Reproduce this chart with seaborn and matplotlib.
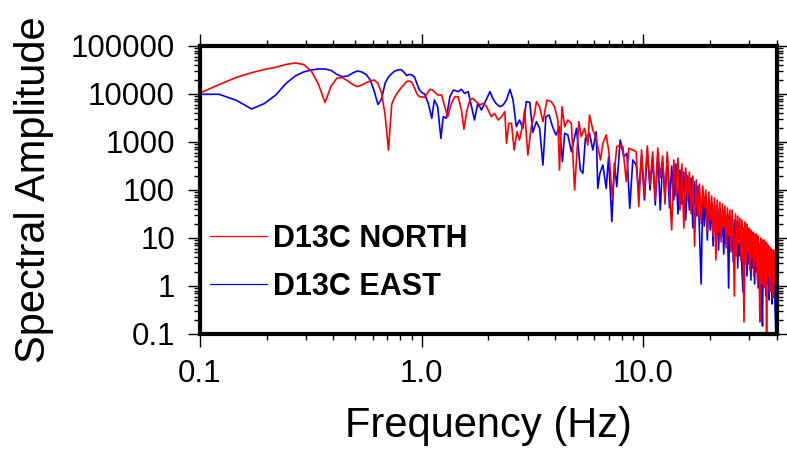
import matplotlib
matplotlib.use("Agg")
import pandas as pd
import matplotlib.pyplot as plt
import seaborn as sns
from matplotlib.lines import Line2D
from matplotlib.ticker import (
    FixedLocator,
    FixedFormatter,
    LogLocator,
    NullFormatter
)

# --------------------------------------------------
# Data
# --------------------------------------------------

# low frequencies, FFT grid shared by both components
freq_low = [
    0.0977, 0.122, 0.1465, 0.1709, 0.1953, 0.2197, 0.2441, 0.2686, 0.293, 0.3174,
    0.3418, 0.3662, 0.3906, 0.415, 0.4395, 0.4639, 0.4883, 0.5127, 0.5371, 0.5615,
    0.5859, 0.6104, 0.6348, 0.6592, 0.6836, 0.708, 0.7324, 0.7568, 0.7813, 0.8057,
    0.8301, 0.8545, 0.8789, 0.9033, 0.9277, 0.9521, 0.9766, 1.001
]

north_low = [
    10000, 15700, 22300, 27800, 32400, 36000, 41200, 44300, 41200, 30200,
    16200, 6650, 14700, 21500, 21900, 18700, 15800, 14200, 15400, 17200,
    18700, 19600, 16700, 10500, 3650, 681, 6190, 8660, 11000, 13300,
    15400, 18200, 18700, 17400, 13300, 10000, 8790, 8660
]

east_low = [
    9860, 9860, 7320, 4870, 6340, 9530, 16500, 23700, 28700, 31600,
    33200, 33200, 30900, 25500, 22900, 23700, 27400, 30200, 28700, 25500,
    19600, 11500, 6040, 7870, 16900, 22600, 26700, 30200, 31600, 32400,
    28700, 24300, 25500, 24900, 22600, 16200, 12100, 10700
]

# 1 - 10 Hz
freq_mid_north = [
    1.03, 1.09, 1.12, 1.18, 1.23, 1.27, 1.31, 1.36, 1.41, 1.46,
    1.51, 1.55, 1.60, 1.65, 1.70, 1.76, 1.83, 1.89, 1.96, 2.06,
    2.13, 2.21, 2.29, 2.37, 2.41, 2.47, 2.54, 2.61, 2.69, 2.76,
    2.86, 2.91, 3.01, 3.12, 3.23, 3.29, 3.40, 3.52, 3.67, 3.84,
    3.97, 4.11, 4.18, 4.29, 4.41, 4.56, 4.73, 4.89, 5.11, 5.24,
    5.42, 5.61, 5.71, 5.91, 6.12, 6.22, 6.40, 6.56, 6.79, 6.98,
    7.23, 7.40, 7.58, 7.80, 8.07, 8.36, 8.59, 8.95, 9.27, 9.52
]

amp_mid_north = [
    8540, 12500, 12100, 9530, 9530, 5440, 3370, 6400, 8790, 8790,
    4640, 1840, 4640, 7500, 8130, 6920, 5900, 6400, 5440, 3370,
    3960, 2870, 3370, 4280, 940, 2450, 2450, 681, 1640, 1100,
    2450, 4640, 536, 2080, 3960, 6920, 5440, 2650, 7500, 6920,
    5440, 2870, 261, 5440, 2080, 2870, 2450, 100, 2650, 1290,
    1930, 866, 3650, 1780, 1190, 798, 422, 940, 1400, 628,
    67, 261, 798, 866, 798, 149, 740, 681, 628, 45
]

freq_mid_east = [
    1.03, 1.07, 1.11, 1.14, 1.18, 1.22, 1.25, 1.29, 1.34, 1.39,
    1.46, 1.51, 1.56, 1.62, 1.67, 1.73, 1.79, 1.86, 1.92, 2.03,
    2.09, 2.16, 2.25, 2.33, 2.41, 2.50, 2.58, 2.67, 2.76, 2.86,
    2.96, 3.07, 3.17, 3.29, 3.40, 3.52, 3.63, 3.75, 3.89, 4.03,
    4.18, 4.31, 4.41, 4.56, 4.73, 4.99, 5.19, 5.33, 5.47, 5.71,
    5.91, 6.12, 6.22, 6.36, 6.56, 6.79, 6.96, 7.20, 7.40, 7.58,
    7.85, 8.15, 8.42, 8.67, 8.95, 9.27, 9.52
]

amp_mid_east = [
    10000, 6400, 3120, 7500, 5440, 1190, 3370, 3120, 8790, 12100,
    11200, 12500, 10300, 11200, 5900, 2870, 6400, 4640, 6400, 11200,
    8130, 6400, 5440, 5900, 7500, 12500, 7500, 2080, 2870, 1930,
    6920, 6710, 1600, 2650, 1930, 332, 3370, 3650, 2080, 1400,
    2080, 389, 1520, 1400, 628, 1930, 261, 223, 1190, 1520,
    681, 1640, 108, 223, 332, 108, 494, 21.9, 360, 117,
    1100, 494, 582, 41.6, 422, 332, 85
]

# 10 - 40 Hz
freq_high = [
    9.8, 10.1, 10.4, 10.7, 11.0, 11.3, 11.6, 11.9, 12.2, 12.5,
    12.8, 13.1, 13.4, 13.7, 14.0, 14.3, 14.6, 14.9, 15.2, 15.5,
    15.8, 16.1, 16.4, 16.7, 17.0, 17.3, 17.6, 17.9, 18.2, 18.5,
    18.8, 19.1, 19.4, 19.7, 20.0, 20.3, 20.6, 20.9, 21.2, 21.5,
    21.8, 22.1, 22.4, 22.7, 23.0, 23.3, 23.6, 23.9, 24.2, 24.5,
    24.8, 25.1, 25.4, 25.7, 26.0, 26.3, 26.6, 26.9, 27.2, 27.5,
    27.8, 28.1, 28.4, 28.7, 29.0, 29.3, 29.6, 29.9, 30.2, 30.5,
    30.8, 31.1, 31.4, 31.7, 32.0, 32.3, 32.6, 32.9, 33.2, 33.5,
    33.8, 34.1, 34.4, 34.7, 35.0, 35.3, 35.6, 35.9, 36.2, 36.5,
    36.8, 37.1, 37.4, 37.7, 38.0, 38.3, 38.6, 38.9, 39.2, 39.5,
    39.8
]

north_high = [
    681, 78.7, 826, 127, 619, 61.9, 750, 178, 511, 51.1,
    619, 100, 14.7, 422, 75, 464, 38.3, 348, 16.2, 287,
    61.9, 237, 31.6, 196, 6.81, 162, 28.7, 133, 19.6, 121,
    42.2, 100, 13.3, 90.9, 23.7, 75, 11.0, 68.1, 3.48, 61.9,
    13.3, 56.2, 8.25, 51.1, 16.2, 46.4, 6.19, 42.2, 11.0, 38.3,
    5.11, 38.3, 9.08, 0.619, 31.6, 4.22, 28.7, 7.50, 26.1, 3.48,
    23.7, 6.19, 0.178, 21.5, 2.87, 19.6, 5.11, 16.2, 2.15, 14.7,
    3.83, 13.3, 1.62, 12.1, 3.16, 12.1, 1.33, 11.0, 2.61, 0.178,
    10.0, 1.10, 9.08, 2.15, 9.08, 0.908, 8.25, 0.110, 7.50, 1.62,
    6.81, 0.750, 6.19, 1.33, 5.62, 0.562, 5.62, 1.10, 5.11, 0.422,
    4.42
]

east_high = [
    511, 61.9, 681, 100, 464, 48.7, 562, 38.3, 383, 75,
    464, 42.2, 316, 61.9, 348, 31.6, 261, 51.1, 237, 23.7,
    196, 38.3, 178, 16.2, 147, 28.7, 121, 11.0, 1.10, 90.9,
    17.8, 75, 9.08, 68.1, 14.7, 56.2, 6.81, 51.1, 12.1, 46.4,
    5.62, 42.2, 10.0, 38.3, 4.64, 34.8, 7.50, 31.6, 0.908, 28.7,
    6.19, 26.1, 3.16, 23.7, 5.11, 21.5, 2.37, 19.6, 4.22, 17.8,
    1.96, 0.750, 16.2, 3.48, 14.7, 1.62, 13.3, 2.87, 12.1, 1.33,
    11.0, 2.37, 10.0, 1.10, 9.08, 1.96, 8.25, 0.908, 7.50, 1.62,
    6.81, 0.750, 0.147, 6.19, 1.33, 5.62, 0.619, 5.11, 1.10, 4.64,
    0.511, 4.22, 0.908, 3.83, 0.422, 3.83, 0.750, 3.48, 0.348, 0.110,
    3.16
]

x_ticks = [0.1, 1.0, 10.0]
x_tick_labels = ["0.1", "1.0", "10.0"]

y_ticks = [0.1, 1, 10, 100, 1000, 10000, 100000]
y_tick_labels = ["0.1", "1", "10", "100", "1000", "10000", "100000"]

labels = ["D13C NORTH", "D13C EAST"]
colors = ["#ff0000", "#0000ff"]

# --------------------------------------------------
# Frames
# --------------------------------------------------

north = pd.DataFrame({
    "freq": freq_low + freq_mid_north + freq_high,
    "amp": north_low + amp_mid_north + north_high
})

east = pd.DataFrame({
    "freq": freq_low + freq_mid_east + freq_high,
    "amp": east_low + amp_mid_east + east_high
})

# --------------------------------------------------
# Plot
# --------------------------------------------------

sns.set_style("ticks")
plt.rcParams["font.family"] = ["Liberation Sans", "DejaVu Sans"]
plt.rcParams["text.color"] = "black"
plt.rcParams["axes.labelcolor"] = "black"
plt.rcParams["xtick.color"] = "black"
plt.rcParams["ytick.color"] = "black"

fig = plt.figure(figsize=(7.87, 4.5), dpi=100)
ax = fig.add_axes([0.2541, 0.2578, 0.7332, 0.64])

sns.lineplot(
    data=east,
    x="freq",
    y="amp",
    color=colors[1],
    lw=1.2,
    estimator=None,
    sort=False,
    ax=ax
)

sns.lineplot(
    data=north,
    x="freq",
    y="amp",
    color=colors[0],
    lw=1.2,
    estimator=None,
    sort=False,
    ax=ax
)

ax.set_xscale("log")
ax.set_yscale("log")
ax.set_xlim(0.1, 40)
ax.set_ylim(0.1, 100000)

ax.xaxis.set_major_locator(FixedLocator(x_ticks))
ax.xaxis.set_major_formatter(FixedFormatter(x_tick_labels))
ax.xaxis.set_minor_locator(LogLocator(base=10, subs=[2, 3, 4, 5, 6, 7, 8, 9]))
ax.xaxis.set_minor_formatter(NullFormatter())

ax.yaxis.set_major_locator(FixedLocator(y_ticks))
ax.yaxis.set_major_formatter(FixedFormatter(y_tick_labels))
ax.yaxis.set_minor_locator(LogLocator(base=10, subs=[2, 3, 4, 5, 6, 7, 8, 9], numticks=20))
ax.yaxis.set_minor_formatter(NullFormatter())

ax.tick_params(
    which="both",
    direction="out",
    top=True,
    right=True,
    width=1.0,
    color="black",
    labelsize=22.5,
    labelcolor="black"
)
ax.tick_params(which="major", length=9, pad=9)
ax.tick_params(which="minor", length=4.5)

for spine in ax.spines.values():
    spine.set_linewidth(3)
    spine.set_color("black")

ax.set_xlabel("Frequency (Hz)", fontsize=30, labelpad=12, color="black")
ax.set_ylabel("Spectral Amplitude", fontsize=30, labelpad=12, color="black")

handles = [
    Line2D([], [], color=colors[0], lw=0.9),
    Line2D([], [], color=colors[1], lw=0.9)
]

ax.legend(
    handles,
    labels,
    loc="center left",
    bbox_to_anchor=(0.0173, 0.2465),
    frameon=False,
    prop={"weight": "bold", "size": 22},
    handlelength=1.86,
    handletextpad=0.2,
    labelspacing=0.6,
    borderpad=0,
    borderaxespad=0
)

fig.savefig("out.png", dpi=100)
plt.close(fig)
